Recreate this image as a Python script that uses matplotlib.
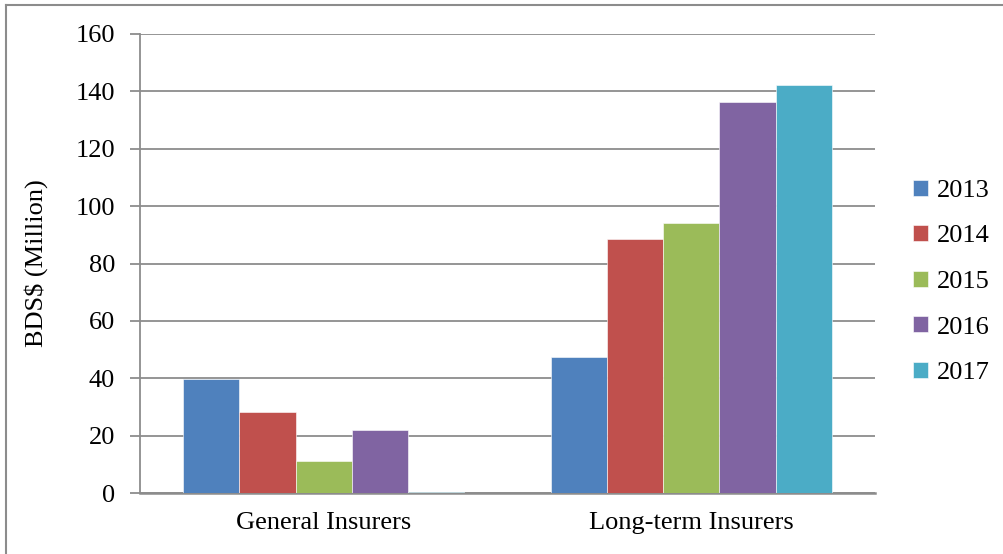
import numpy as np
import matplotlib
matplotlib.use("Agg")
import matplotlib.pyplot as plt
from matplotlib.lines import Line2D

plt.rcParams['font.family'] = ['Liberation Serif', 'DejaVu Serif']

categories = ['General Insurers', 'Long-term Insurers']
years = ['2013', '2014', '2015', '2016', '2017']
values = {
    '2013': [39.8, 47.3],
    '2014': [28.4, 88.6],
    '2015': [11.2, 94.0],
    '2016': [22.0, 136.3],
    '2017': [0.5, 142.2],
}
colors = ['#4F81BD', '#C0504D', '#9BBB59', '#8064A2', '#4BACC6']

fig = plt.figure(figsize=(10.04, 5.54), dpi=100)
fig.patch.set_facecolor('white')
ax = fig.add_axes([140/1004, 1 - 493/554, 735/1004, 459/554])

x = np.arange(len(categories))
w = 0.153
for i, yr in enumerate(years):
    ax.bar(x + (i - 2) * w, values[yr], w, color=colors[i], label=yr,
           edgecolor='white', linewidth=0.4, zorder=3)

ax.set_xlim(-0.5, 1.5)
ax.set_ylim(0, 160)
ax.set_yticks(range(0, 161, 20))
ax.set_xticks(x)
ax.set_xticklabels(categories)
ax.grid(axis='y', color='#8c8c8c', linewidth=1.3, zorder=0)
for s in ['top', 'right']:
    ax.spines[s].set_visible(False)
ax.spines['left'].set_color('#8c8c8c')
ax.spines['bottom'].set_color('#8c8c8c')
ax.spines['left'].set_linewidth(1.3)
ax.spines['bottom'].set_linewidth(1.8)
ax.tick_params(axis='y', length=7, color='#8c8c8c', width=1.3, labelsize=19, pad=11)
ax.tick_params(axis='x', length=0, labelsize=19, pad=14)
ax.set_ylabel('BDS$ (Million)', fontsize=19, labelpad=20)

leg = ax.legend(loc='center left', bbox_to_anchor=(1.038, 0.46), frameon=False,
                fontsize=19, handlelength=0.55, handleheight=0.55,
                handletextpad=0.35, labelspacing=0.88, borderaxespad=0)

# outer chart border (top and left visible)
fig.add_artist(Line2D([6/1004, 6/1004], [0, 1 - 5/554], color='#8c8c8c', linewidth=1.5))
fig.add_artist(Line2D([6/1004, 1], [1 - 5/554, 1 - 5/554], color='#8c8c8c', linewidth=1.5))

fig.savefig('out.png', dpi=100, facecolor='white')
